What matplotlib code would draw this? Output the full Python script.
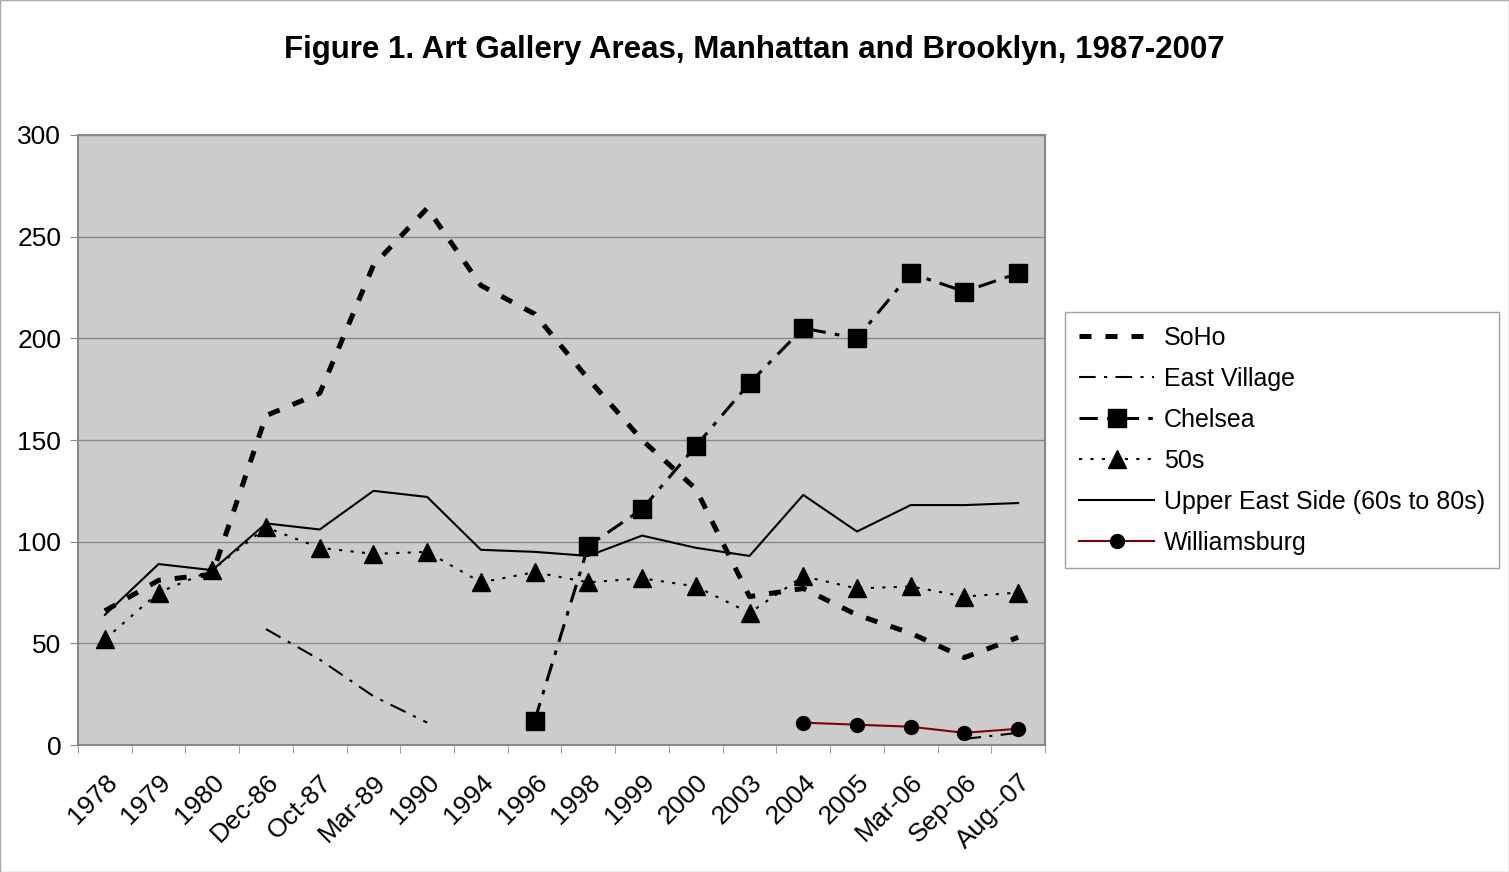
import matplotlib.pyplot as plt
import numpy as np

nan = np.nan

categories = ["1978", "1979", "1980", "Dec-86", "Oct-87", "Mar-89", "1990", "1994",
              "1996", "1998", "1999", "2000", "2003", "2004", "2005", "Mar-06",
              "Sep-06", "Aug--07"]

soho = [66, 81, 84, 162, 173, 236, 264, 226, 212, 180, 150, 126, 73, 77, 64, 55, 43, 53]
east_village = [nan, nan, nan, 57, 42, 24, 11, nan, nan, nan, nan, nan, nan, nan, nan, nan, 3, 6]
chelsea = [nan, nan, nan, nan, nan, nan, nan, nan, 12, 98, 116, 147, 178, 205, 200, 232, 223, 232]
fifties = [52, 75, 86, 107, 97, 94, 95, 80, 85, 80, 82, 78, 65, 83, 77, 78, 73, 75]
upper_east = [64, 89, 86, 109, 106, 125, 122, 96, 95, 93, 103, 97, 93, 123, 105, 118, 118, 119]
williamsburg = [nan, nan, nan, nan, nan, nan, nan, nan, nan, nan, nan, nan, nan, 11, 10, 9, 6, 8]

plt.rcParams['font.family'] = ['Liberation Sans', 'DejaVu Sans']

fig = plt.figure(figsize=(15.09, 8.72), dpi=100)
ax = fig.add_axes([0.0517, 0.1456, 0.6408, 0.6996])
ax.set_facecolor('#cccccc')

x = np.arange(len(categories))

ax.plot(x, soho, color='black', lw=3.6, linestyle=(0, (2.4, 2.8)), label='SoHo', zorder=3)
ax.plot(x, east_village, color='black', lw=1.5, linestyle=(0, (8, 4, 1.5, 4)), label='East Village', zorder=3)
ax.plot(x, chelsea, color='black', lw=2.2, linestyle=(0, (6, 3, 1.5, 3)), marker='s', ms=13,
        label='Chelsea', zorder=4)
ax.plot(x, fifties, color='black', lw=1.5, linestyle=(0, (1.5, 4)), marker='^', ms=13,
        label='50s', zorder=4)
ax.plot(x, upper_east, color='black', lw=1.5, linestyle='-', label='Upper East Side (60s to 80s)', zorder=3)
ax.plot(x, williamsburg, color='#800000', lw=1.5, linestyle='-', marker='o', ms=10,
        mfc='black', mec='black', label='Williamsburg', zorder=4)

ax.set_xlim(-0.5, len(categories) - 0.5)
ax.set_ylim(0, 300)
ax.set_yticks(np.arange(0, 301, 50))
ax.yaxis.grid(True, color='#888888', lw=1)
ax.set_axisbelow(True)

ax.set_xticks(x)
ax.set_xticklabels(categories, rotation=45, ha='right', rotation_mode='anchor', fontsize=19)
ax.set_xticks(np.arange(-0.5, len(categories), 1), minor=True)
ax.tick_params(axis='x', which='major', length=0, pad=18)
ax.tick_params(axis='x', which='minor', length=6, color='#888888', direction='out')
ax.tick_params(axis='y', labelsize=19, length=6, color='#888888', direction='out', pad=6)

for s in ax.spines.values():
    s.set_color('#888888')
    s.set_linewidth(1.5)

fig.suptitle('Figure 1. Art Gallery Areas, Manhattan and Brooklyn, 1987-2007',
             fontsize=22.5, fontweight='bold', x=0.5, y=0.96)

leg = ax.legend(loc='upper left', bbox_to_anchor=(1.021, 0.71), borderaxespad=0, fontsize=18,
                frameon=True, fancybox=False, edgecolor='#888888', handlelength=3.0,
                borderpad=0.55, labelspacing=0.68, handletextpad=0.4)
leg.get_frame().set_linewidth(1)

fig.patches.append(plt.Rectangle((0, 0), 1, 1, transform=fig.transFigure, fill=False,
                                 edgecolor='#aaaaaa', lw=1))

fig.savefig('out.png', dpi=100)
